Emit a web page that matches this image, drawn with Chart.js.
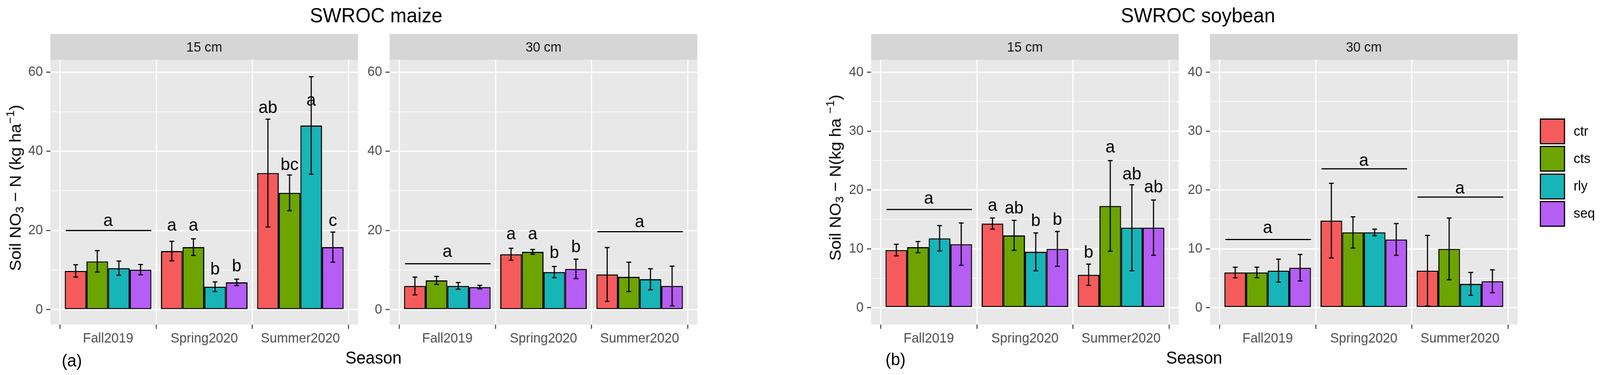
<!DOCTYPE html>
<html>
<head>
<meta charset="utf-8">
<title>SWROC soil nitrate by season</title>
<script src="https://cdn.jsdelivr.net/npm/chart.js@4.4.1/dist/chart.umd.min.js"></script>
<style>
  html, body { margin: 0; padding: 0; overflow: hidden; background: #fff; }
  #fig { position: relative; width: 4254px; height: 959px; overflow: hidden; transform-origin: 0 0;
         font-family: "Liberation Sans", Arial, sans-serif; }
  #fig canvas, .txt, .strip, .key { position: absolute; }
  .txt { white-space: nowrap; text-align: center; color: #000; }
  .txt.left { text-align: left; }
  .strip { top: 87px; height: 66px; width: 818px; background: #D6D6D6; color: #1A1A1A;
           font-size: 35px; line-height: 66px; text-align: center; }
  .key { width: 67px; height: 66px; border: 3px solid #000; box-sizing: border-box; }
  sub { font-size: 0.7em; vertical-align: -0.22em; line-height: 0; }
  sup { font-size: 0.7em; vertical-align: 0.6em; line-height: 0; }
</style>
</head>
<body>
<div id="fig"></div>
<script>
// categories and treatments
const seasons = ['Fall2019', 'Spring2020', 'Summer2020'];
const treatments = ['ctr', 'cts', 'rly', 'seq'];

// rows follow treatments, columns follow seasons (kg NO3-N / ha)
const maize15Mean = [[9.8, 14.8, 34.5], [12.2, 15.8, 29.5], [10.5, 5.8, 46.5], [10.1, 6.9, 15.8]];
const maize15Err = [[1.55, 2.45, 13.6], [2.7, 2.1, 4.5], [1.8, 1.2, 12.3], [1.3, 0.8, 3.8]];
const maize15Letters = [['', 'a', 'ab'], ['', 'a', 'bc'], ['', 'b', 'a'], ['', 'b', 'c']];
const maize15LetterY = [[0, 19.9, 49.7], [0, 19.9, 35.2], [0, 8.9, 51.5], [0, 9.7, 21.1]];
const maize15Groups = [[0, 20.0, 'a', 21.1]]; // season, line value, letter, letter value

const maize30Mean = [[6.0, 14.0, 8.9], [7.4, 14.6, 8.3], [6.0, 9.5, 7.7], [5.7, 10.3, 6.0]];
const maize30Err = [[2.25, 1.5, 6.8], [1.0, 0.6, 3.7], [0.85, 1.4, 2.65], [0.45, 2.45, 5.0]];
const maize30Letters = [['', 'a', ''], ['', 'a', ''], ['', 'b', ''], ['', 'b', '']];
const maize30LetterY = [[0, 17.8, 0], [0, 17.8, 0], [0, 13.0, 0], [0, 14.5, 0]];
const maize30Groups = [[0, 11.6, 'a', 13.3], [2, 19.7, 'a', 20.8]];

const soy15Mean = [[9.8, 14.3, 5.6], [10.3, 12.3, 17.3], [11.8, 9.5, 13.6], [10.8, 10.0, 13.6]];
const soy15Err = [[0.98, 0.95, 1.8], [0.95, 2.55, 7.7], [2.15, 3.2, 7.3], [3.6, 2.95, 4.7]];
const soy15Letters = [['', 'a', 'b'], ['', 'ab', 'a'], ['', 'b', 'ab'], ['', 'b', 'ab']];
const soy15LetterY = [[0, 16.5, 8.5], [0, 16.0, 26.4], [0, 13.9, 21.8], [0, 14.1, 19.6]];
const soy15Groups = [[0, 16.7, 'a', 17.7]];

const soy30Mean = [[6.0, 14.8, 6.3], [6.0, 12.8, 10.0], [6.3, 12.8, 4.05], [6.8, 11.6, 4.5]];
const soy30Err = [[0.9, 6.35, 6.0], [0.9, 2.65, 5.25], [1.95, 0.55, 1.95], [2.25, 2.7, 1.95]];
const soy30Groups = [[0, 11.6, 'a', 12.7], [1, 23.6, 'a', 24.1], [2, 18.8, 'a', 19.4]];

// y axes
const maizeTicks = [0, 10, 20, 30, 40, 50, 60];
const maizeLabels = [0, 20, 40, 60];
const maizeRange = [-3.75, 63.08];
const soyTicks = [0, 5, 10, 15, 20, 25, 30, 35, 40];
const soyLabels = [0, 10, 20, 30, 40];
const soyRange = [-2.86, 42.13];

// look
const fills = ['#F65B5B', '#6DA400', '#17B4B8', '#B65DF3'];
const PANEL_BG = '#E8E8E8';
const PANEL_TOP = 153, PANEL_H = 677, PANEL_W = 818;
const AXIS_W = 80, XAXIS_H = 70;
const FONT = '"Liberation Sans", Arial, sans-serif';
const fig = document.getElementById('fig');

// the window may be narrower than 4254 px; stretch the figure onto it
fig.style.transform = 'scale(' + (window.innerWidth / 4254) + ',' + (window.innerHeight / 959) + ')';

Chart.defaults.font.family = FONT;

// centred text box of a given width around (cx, cy)
function addText(html, cx, cy, size, w, rotate) {
  const d = document.createElement('div');
  d.className = 'txt';
  d.innerHTML = html;
  d.style.fontSize = size + 'px';
  d.style.lineHeight = size + 'px';
  d.style.width = w + 'px';
  d.style.left = (cx - w / 2) + 'px';
  d.style.top = (cy - size / 2) + 'px';
  if (rotate) d.style.transform = 'rotate(-90deg)';
  fig.appendChild(d);
  return d;
}

function annotations(errs, letters, letterY, groups) {
  return {
    id: 'annotations',
    beforeDraw(chart) {
      const {ctx, chartArea: a} = chart;
      ctx.save();
      ctx.fillStyle = PANEL_BG;
      ctx.fillRect(a.left, a.top, a.right - a.left, a.bottom - a.top);
      ctx.restore();
    },
    afterDatasetsDraw(chart) {
      const {ctx, scales: {x, y}} = chart;
      ctx.save();
      ctx.strokeStyle = '#000';
      ctx.fillStyle = '#000';
      ctx.lineWidth = 3;
      ctx.font = '45px ' + FONT;
      ctx.textAlign = 'center';
      ctx.textBaseline = 'alphabetic';
      chart.data.datasets.forEach((ds, t) => {
        chart.getDatasetMeta(t).data.forEach((bar, s) => {
          const m = ds.data[s].y, e = errs[t][s];
          const top = y.getPixelForValue(m + e), bot = y.getPixelForValue(m - e);
          const cap = bar.width * 0.11;
          ctx.beginPath();
          ctx.moveTo(bar.x, top); ctx.lineTo(bar.x, bot);
          ctx.moveTo(bar.x - cap, top); ctx.lineTo(bar.x + cap, top);
          ctx.moveTo(bar.x - cap, bot); ctx.lineTo(bar.x + cap, bot);
          ctx.stroke();
          if (letters && letters[t][s]) {
            ctx.fillText(letters[t][s], bar.x, y.getPixelForValue(letterY[t][s]));
          }
        });
      });
      groups.forEach(([s, lineV, letter, letterV]) => {
        const ly = y.getPixelForValue(lineV);
        ctx.beginPath();
        ctx.moveTo(x.getPixelForValue(s + 1 - 0.44), ly);
        ctx.lineTo(x.getPixelForValue(s + 1 + 0.45), ly);
        ctx.stroke();
        ctx.fillText(letter, x.getPixelForValue(s + 1), y.getPixelForValue(letterV));
      });
      ctx.restore();
    }
  };
}

function makePanel(left, means, errs, letters, letterY, groups, range, yTicks, yLabels) {
  const canvas = document.createElement('canvas');
  const cw = AXIS_W + PANEL_W + 4, ch = PANEL_H + XAXIS_H;
  canvas.width = cw;
  canvas.height = ch;
  canvas.style.width = cw + 'px';
  canvas.style.height = ch + 'px';
  canvas.style.left = (left - AXIS_W) + 'px';
  canvas.style.top = PANEL_TOP + 'px';
  fig.appendChild(canvas);

  const isMajor = v => yLabels.includes(v);

  return new Chart(canvas.getContext('2d'), {
    type: 'bar',
    data: {
      datasets: treatments.map((name, t) => ({
        label: name,
        data: seasons.map((s, i) => ({x: i + 1, y: means[t][i]})),
        backgroundColor: fills[t],
        borderColor: '#000',
        borderWidth: 3,
        borderSkipped: false,
        categoryPercentage: 0.9,
        barPercentage: 1.0
      }))
    },
    options: {
      responsive: false,
      animation: false,
      devicePixelRatio: 1,
      layout: {padding: {left: 0, right: 4, top: 0, bottom: 0}},
      plugins: {legend: {display: false}, tooltip: {enabled: false}},
      scales: {
        x: {
          type: 'linear',
          min: 0.4,
          max: 3.6,
          offset: false,
          afterBuildTicks: s => { s.ticks = seasons.map((_, i) => ({value: i + 1})); },
          afterFit: s => { s.height = XAXIS_H; s.paddingLeft = 0; s.paddingRight = 0; },
          ticks: {
            autoSkip: false, maxRotation: 0, padding: 4,
            color: '#4D4D4D', font: {size: 35},
            callback: (v, i) => seasons[i]
          },
          grid: {color: '#fff', lineWidth: 3.2, tickColor: '#333', tickWidth: 2.5, tickLength: 11},
          border: {display: false}
        },
        y: {
          min: range[0],
          max: range[1],
          afterBuildTicks: s => { s.ticks = yTicks.map(v => ({value: v})); },
          afterFit: s => { s.width = AXIS_W; s.paddingTop = 0; s.paddingBottom = 0; },
          ticks: {
            autoSkip: false, padding: 9,
            color: '#4D4D4D', font: {size: 35},
            callback: v => isMajor(v) ? String(v) : ''
          },
          grid: {
            color: '#fff',
            lineWidth: c => (c.tick && isMajor(c.tick.value)) ? 3.2 : 1.6,
            tickColor: c => (c.tick && isMajor(c.tick.value)) ? '#333' : 'rgba(0,0,0,0)',
            tickWidth: 2.5,
            tickLength: 11
          },
          border: {display: false}
        }
      }
    },
    plugins: [annotations(errs, letters, letterY, groups)]
  });
}

// facet strips
const panelLefts = [134, 1036, 2316, 3217];
const stripLabels = ['15 cm', '30 cm', '15 cm', '30 cm'];
panelLefts.forEach((left, i) => {
  const d = document.createElement('div');
  d.className = 'strip';
  d.style.left = left + 'px';
  d.textContent = stripLabels[i];
  fig.appendChild(d);
});

makePanel(panelLefts[0], maize15Mean, maize15Err, maize15Letters, maize15LetterY, maize15Groups, maizeRange, maizeTicks, maizeLabels);
makePanel(panelLefts[1], maize30Mean, maize30Err, maize30Letters, maize30LetterY, maize30Groups, maizeRange, maizeTicks, maizeLabels);
makePanel(panelLefts[2], soy15Mean, soy15Err, soy15Letters, soy15LetterY, soy15Groups, soyRange, soyTicks, soyLabels);
makePanel(panelLefts[3], soy30Mean, soy30Err, null, null, soy30Groups, soyRange, soyTicks, soyLabels);

// titles and axis titles
addText('SWROC maize', 1000, 39, 52, 500);
addText('SWROC soybean', 3185, 39, 52, 500);
addText('Season', 993, 915, 44, 300);
addText('Season', 3175, 915, 44, 300);
addText('(a)', 191, 922, 44, 100);
addText('(b)', 2381, 919, 44, 100);
addText('Soil NO<sub>3</sub> &minus; N (kg ha<sup>&minus;1</sup>)', 41, 480, 43, 560, true);
addText('Soil NO<sub>3</sub> &minus; N(kg ha <sup>&minus;1</sup>)', 2221, 454, 43, 560, true);

// legend
treatments.forEach((name, t) => {
  const top = 303 + t * 70.3;
  const k = document.createElement('div');
  k.className = 'key';
  k.style.left = '4094px';
  k.style.top = top + 'px';
  k.style.background = fills[t];
  fig.appendChild(k);
  const lab = addText(name, 4184 + 30, top + 31, 35, 60);
  lab.classList.add('left');
});
</script>
</body>
</html>
